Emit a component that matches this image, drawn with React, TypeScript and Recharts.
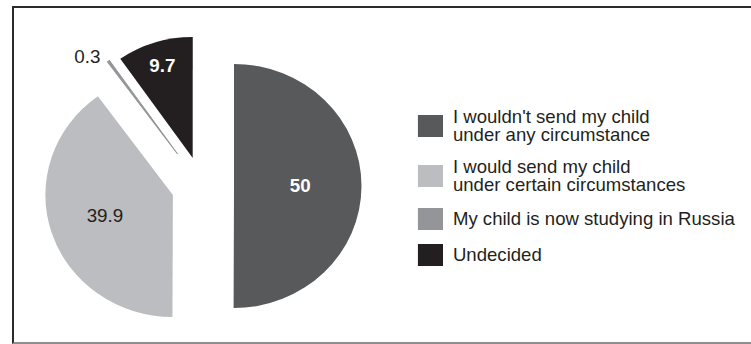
import React from 'react';
import { PieChart, Pie, Cell, Legend } from 'recharts';

// survey answers, clockwise from 12 o'clock
const categories = [
    "I wouldn't send my child\nunder any circumstance",
    'I would send my child\nunder certain circumstances',
    'My child is now studying in Russia',
    'Undecided',
];
const shares = [50, 39.9, 0.3, 9.7];
const shareLabels = ['50', '39.9', '0.3', '9.7'];

const colors = ['#58595b', '#bcbdc0', '#939598', '#231f20'];
const labelColors = ['#ffffff', '#231f20', '#231f20', '#ffffff'];
const labelWeights = ['bold', 'normal', 'normal', 'bold'];

// the original artwork is slightly wider than tall
const STRETCH = 1.045;
const ORIGIN_X = 234;

// exploded layout: each slice gets its own centre (unstretched coords)
const centers = [
    { cx: 234, cy: 186, r: 122 },
    { cx: 175.5, cy: 195, r: 122 },
    { cx: 180, cy: 154, r: 114 },
    { cx: 194.5, cy: 158, r: 121 },
];
const labelRadius = [0.52, 0.56, 1.07, 0.8];

const FONT = '"Liberation Sans", Arial, Helvetica, sans-serif';
const RADIAN = Math.PI / 180;

const chartData = categories.map((name, i) => ({ name, value: shares[i], label: shareLabels[i] }));

function makeLabel(slice: number) {
    return (props: any) => {
        const { cx, cy, midAngle, outerRadius, index } = props;
        if (index !== slice) return null;
        const r = outerRadius * labelRadius[slice];
        const x = cx + r * Math.cos(-midAngle * RADIAN);
        const y = cy + r * Math.sin(-midAngle * RADIAN);
        const outside = labelRadius[slice] > 1;
        return (
            <text
                x={outside ? x - 3 : x}
                y={outside ? y + 2 : y}
                fill={labelColors[slice]}
                fontFamily={FONT}
                fontSize={18}
                fontWeight={labelWeights[slice]}
                textAnchor={outside ? 'end' : 'middle'}
                dominantBaseline="central"
            >
                {chartData[slice].label}
            </text>
        );
    };
}

function LegendBox() {
    return (
        <div style={{ display: 'flex', flexDirection: 'column', gap: 14, fontFamily: FONT, fontSize: 17.8, color: '#231f20' }}>
            {categories.map((name, i) => (
                <div key={name} style={{ display: 'flex', alignItems: 'center' }}>
                    <div style={{ width: 24, height: 22, background: colors[i], marginRight: 9.5, flexShrink: 0 }} />
                    <div style={{ lineHeight: '18px', whiteSpace: 'pre' }}>{name}</div>
                </div>
            ))}
        </div>
    );
}

export default function App() {
    return (
        <div style={{ position: 'absolute', left: 0, top: 0, width: 751, height: 344, background: '#fff', overflow: 'hidden' }}>
            <div
                style={{
                    position: 'absolute',
                    left: 12,
                    top: 6,
                    width: 800,
                    height: 334,
                    borderLeft: '2px solid #2b2b2b',
                    borderTop: '2px solid #2b2b2b',
                    borderBottom: '2px solid #8f8f8f',
                }}
            />
            <div
                style={{
                    position: 'absolute',
                    left: 0,
                    top: 0,
                    transform: `scaleX(${STRETCH})`,
                    transformOrigin: `${ORIGIN_X}px 0px`,
                }}
            >
                <PieChart width={751} height={344} margin={{ top: 0, right: 0, bottom: 0, left: 0 }}>
                    {centers.map((c, i) => (
                        <Pie
                            key={i}
                            data={chartData}
                            dataKey="value"
                            nameKey="name"
                            cx={c.cx}
                            cy={c.cy}
                            outerRadius={c.r}
                            startAngle={90}
                            endAngle={-270}
                            stroke="none"
                            label={makeLabel(i)}
                            labelLine={false}
                            legendType="none"
                            isAnimationActive={false}
                        >
                            {chartData.map((d, j) => (
                                <Cell
                                    key={d.name}
                                    fill={j === i ? colors[j] : 'none'}
                                    stroke={j === i && i === 2 ? colors[j] : 'none'}
                                    strokeWidth={j === i && i === 2 ? 1 : 0}
                                />
                            ))}
                        </Pie>
                    ))}
                    <Legend
                        layout="vertical"
                        align="right"
                        verticalAlign="top"
                        content={() => <LegendBox />}
                        wrapperStyle={{ position: 'absolute', left: 410, top: 108, width: 320 }}
                    />
                </PieChart>
            </div>
        </div>
    );
}
